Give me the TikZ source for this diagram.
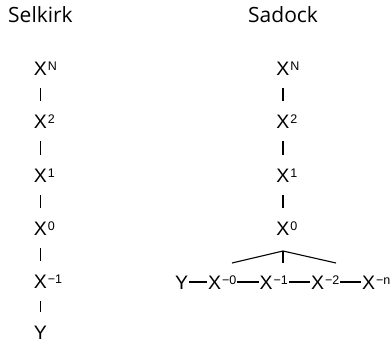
\documentclass[tikz,border=0pt]{standalone}
\usepackage{fontspec}
\setmainfont{Liberation Sans}
\newfontfamily\titlefont{Open Sans}
\usetikzlibrary{calc}
\newcommand{\supfont}{\fontsize{12.5}{13}\selectfont}
\newcommand{\Xc}[1]{X\rlap{\kern0.8pt\raisebox{4.6pt}{\supfont #1}}}
\newcommand{\Xr}[1]{X\kern0.8pt\raisebox{4.6pt}{\supfont #1}}
\tikzset{
  xnode/.style={inner sep=0pt, text height=14pt, text depth=0pt, font=\fontsize{19.5}{19.5}\selectfont},
  title/.style={inner sep=0pt, anchor=base west, font=\titlefont\fontsize{21}{21}\selectfont},
  bar/.style={line width=1.2pt, shorten <=13.2pt, shorten >=13.2pt},
  dashline/.style={line width=1.1pt, shorten <=1pt, shorten >=1pt},
  tree/.style={line width=1.1pt}
}
\begin{document}
\begin{tikzpicture}[x=1pt,y=-1pt]
\useasboundingbox (0,0) rectangle (391,343);
% titles
\node[title] (tsel) at (8,22.5) {Selkirk};
\node[title] (tsad) at (248,22.5) {Sadock};
% Selkirk column
\node[xnode] (aN) at (40.5,68) {\Xc{N}};
\node[xnode] (a2) at (40.5,121) {\Xc{2}};
\node[xnode] (a1) at (40.5,175) {\Xc{1}};
\node[xnode] (a0) at (40.5,228) {\Xc{0}};
\node[xnode] (am1) at (40.5,281) {\Xc{−1}};
\node[xnode] (ay) at (40.5,332.5) {Y};
\draw[bar] (aN) -- (a2);
\draw[bar] (a2) -- (a1);
\draw[bar] (a1) -- (a0);
\draw[bar] (a0) -- (am1);
\draw[bar] (am1) -- (ay);
% Sadock column
\node[xnode] (bN) at (283,68) {\Xc{N}};
\node[xnode] (b2) at (283,121) {\Xc{2}};
\node[xnode] (b1) at (283,175) {\Xc{1}};
\node[xnode] (b0) at (283,228) {\Xc{0}};
\draw[bar] (bN) -- (b2);
\draw[bar] (b2) -- (b1);
\draw[bar] (b1) -- (b0);
% bottom row
\node[xnode, anchor=west] (y) at (175,282) {Y};
\node[xnode, anchor=west] (c0) at (208,282) {\Xr{−0}};
\node[xnode, anchor=west] (c1) at (259.5,282) {\Xr{−1}};
\node[xnode, anchor=west] (c2) at (311,282) {\Xr{−2}};
\node[xnode, anchor=west] (cn) at (362,282) {\Xr{−n}};
\draw[dashline] (y) -- (c0);
\draw[dashline] (c0) -- (c1);
\draw[dashline] (c1) -- (c2);
\draw[dashline] (c2) -- (cn);
% tree
\coordinate (apex) at (283,251);
\coordinate (tl) at (232,263);
\coordinate (tr) at (336,263);
\coordinate (tm) at (283,263);
\draw[tree] (tl) -- (apex) -- (tr);
\draw[tree] (apex) -- (tm);
\end{tikzpicture}
\end{document}
